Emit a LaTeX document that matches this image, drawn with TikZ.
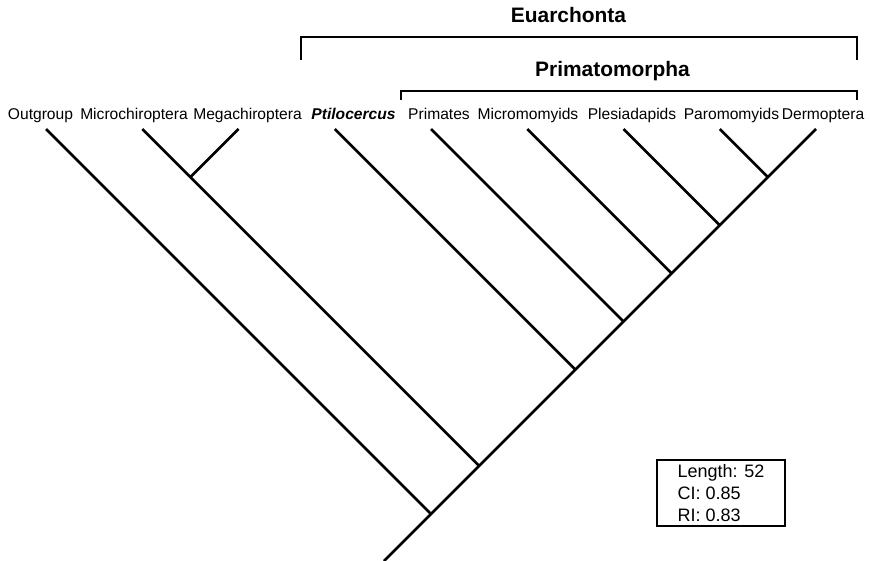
\documentclass[tikz,border=0pt]{standalone}
\usepackage{fontspec}
\setmainfont{Liberation Sans}
\usepackage{tikz}
\usetikzlibrary{positioning}
\tikzset{
  taxonlabel/.style={anchor=base,inner sep=0pt,font=\fontsize{11.7}{14}\selectfont},
  cladetitle/.style={anchor=base,inner sep=0pt,font=\bfseries\fontsize{15.7}{19}\selectfont},
  branch/.style={line width=2pt},
  cladebracket/.style={line width=1.7pt},
  statbox/.style={draw,line width=2.2pt,align=left,minimum width=96pt,minimum height=49.5pt,
    inner sep=0pt,font=\fontsize{13.5}{16.5}\selectfont}
}

\begin{document}
\begin{tikzpicture}[x=0.75pt,y=-0.75pt]
  \useasboundingbox (0,0) rectangle (870,560);

  % taxon labels
  \node[taxonlabel] (og)  at (40.5,119)  {Outgroup};
  \node[taxonlabel] (mic) at (134,119)   {Microchiroptera};
  \node[taxonlabel] (meg) at (247.5,119) {Megachiroptera};
  \node[taxonlabel] (pti) at (353.5,119) {\textbf{\textit{Ptilocercus}}};
  \node[taxonlabel] (pri) at (439,119)   {Primates};
  \node[taxonlabel] (mmy) at (528,119)   {Micromomyids};
  \node[taxonlabel] (ple) at (632,119)   {Plesiadapids};
  \node[taxonlabel] (par) at (731.5,119) {Paromomyids};
  \node[taxonlabel] (der) at (823,119)   {Dermoptera};

  % branch tips
  \coordinate (og-tip)  at (46,129);
  \coordinate (mic-tip) at (142.25,129);
  \coordinate (meg-tip) at (238.5,129);
  \coordinate (pti-tip) at (334.75,129);
  \coordinate (pri-tip) at (431,129);
  \coordinate (mmy-tip) at (527.25,129);
  \coordinate (ple-tip) at (623.5,129);
  \coordinate (par-tip) at (719.75,129);
  \coordinate (der-tip) at (816,129);

  % internal nodes
  \coordinate (bats)  at (190.375,177.125);
  \coordinate (dp)    at (767.875,177.125);
  \coordinate (pl)    at (719.75,225.25);
  \coordinate (mm)    at (671.625,273.375);
  \coordinate (pr)    at (623.5,321.5);
  \coordinate (pt)    at (575.375,369.625);
  \coordinate (bt)    at (479.125,465.875);
  \coordinate (ogn)   at (431,514);
  \coordinate (root)  at (384,561);

  \draw[branch] (der-tip) -- (dp) -- (pl) -- (mm) -- (pr) -- (pt) -- (bt) -- (ogn) -- (root);
  \draw[branch] (par-tip) -- (dp);
  \draw[branch] (ple-tip) -- (pl);
  \draw[branch] (mmy-tip) -- (mm);
  \draw[branch] (pri-tip) -- (pr);
  \draw[branch] (pti-tip) -- (pt);
  \draw[branch] (meg-tip) -- (bats);
  \draw[branch] (mic-tip) -- (bats) -- (bt);
  \draw[branch] (og-tip) -- (ogn);

  % clade brackets
  \coordinate (eu-l) at (301,60);
  \coordinate (eu-r) at (857,60);
  \coordinate (pm-l) at (401,100);
  \coordinate (pm-r) at (857,100);
  \draw[cladebracket] (eu-l) -- ++(0,-23) -| (eu-r);
  \draw[cladebracket] (pm-l) -- ++(0,-9) -| (pm-r);
  \node[cladetitle] (euarchonta) at (568.5,23) {Euarchonta};
  \node[cladetitle] (primatomorpha) at (612.5,77) {Primatomorpha};

  % tree statistics
  \node[statbox] (stats) at (721,493) {Length: 52\\CI: 0.85\\RI: 0.83};
\end{tikzpicture}
\end{document}
